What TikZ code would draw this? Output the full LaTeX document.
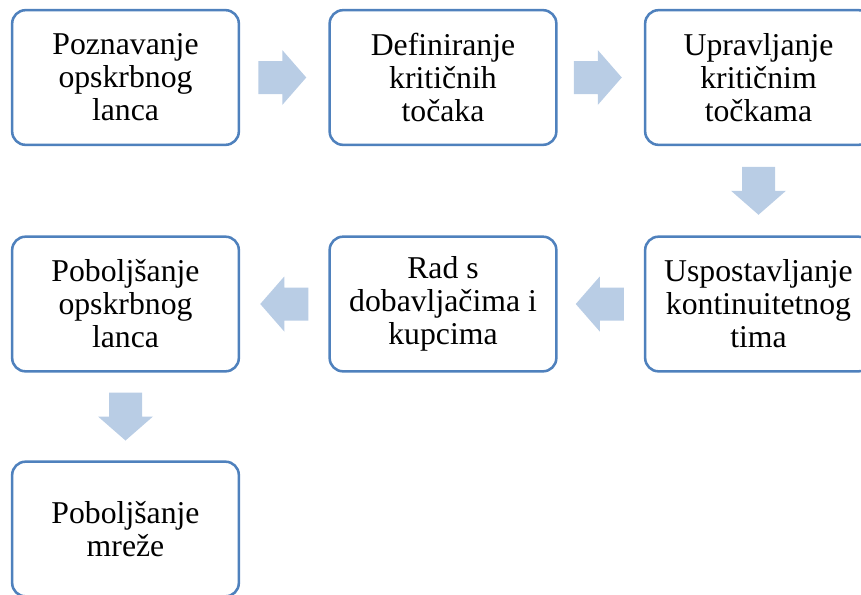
\documentclass[tikz,border=0pt]{standalone}
\usepackage{fontspec}
\setmainfont{Liberation Serif}
\usetikzlibrary{calc}
\definecolor{boxline}{RGB}{79,129,189}
\definecolor{arrowfill}{RGB}{185,205,229}
\tikzset{
  stepbox/.style={draw=boxline, line width=1.9pt, rounded corners=10pt, fill=white,
    minimum width=170pt, minimum height=101pt, inner sep=0pt, align=center,
    font=\fontsize{23.8}{24.8}\selectfont},
  barrow/.pic={\fill[arrowfill] (-24,-16.5) -- (0,-16.5) -- (0,-27.5) -- (24,0) -- (0,27.5) -- (0,16.5) -- (-24,16.5) -- cycle;}
}
\begin{document}
\begin{tikzpicture}[x=0.75pt,y=-0.75pt]
\useasboundingbox (0,0) rectangle (861,594);
\node[stepbox] (a) at (125.5,77.5) {Poznavanje\\opskrbnog\\lanca};
\node[stepbox] (b) at (443,77.5) {Definiranje\\kritičnih\\točaka};
\node[stepbox] (c) at (758.5,77.5) {Upravljanje\\kritičnim\\točkama};
\node[stepbox] (d) at (758.5,304) {Uspostavljanje\\kontinuitetnog\\tima};
\node[stepbox] (e) at (443,304) {Rad s\\dobavljačima i\\kupcima};
\node[stepbox] (f) at (125.5,304) {Poboljšanje\\opskrbnog\\lanca};
\node[stepbox] (g) at (125.5,529) {Poboljšanje\\mreže};
\pic at ($(a.east)!0.5!(b.west)+(-2,0)$) {barrow};
\pic at ($(b.east)!0.5!(c.west)+(-3,0)$) {barrow};
\pic[rotate=-90] at ($(c.south)!0.5!(d.north)$) {barrow};
\pic[rotate=180] at ($(d.west)!0.5!(e.east)+(-1,0)$) {barrow};
\pic[rotate=180] at ($(e.west)!0.5!(f.east)+(0,0)$) {barrow};
\pic[rotate=-90] at ($(f.south)!0.5!(g.north)$) {barrow};
\end{tikzpicture}
\end{document}
